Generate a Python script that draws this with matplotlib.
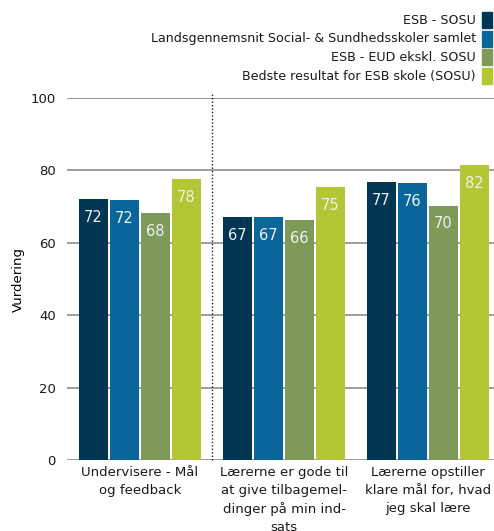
"""Vurdering af undervisere - grupperet søjlediagram."""

import matplotlib
matplotlib.use("Agg")
import matplotlib.pyplot as plt
from matplotlib.patches import Rectangle

plt.rcParams["font.family"] = ["DejaVu Sans"]

CATEGORIES = [
    "Undervisere - Mål\nog feedback",
    "Lærerne er gode til\nat give tilbagemel-\ndinger på min ind-\nsats",
    "Lærerne opstiller\nklare mål for, hvad\njeg skal lære",
]
SERIES = [
    "ESB - SOSU",
    "Landsgennemsnit Social- & Sundhedsskoler samlet",
    "ESB - EUD ekskl. SOSU",
    "Bedste resultat for ESB skole (SOSU)",
]
VALUES = [
    [72.1, 67.1, 76.8],
    [71.8, 67.1, 76.5],
    [68.2, 66.3, 70.2],
    [77.6, 75.4, 81.5],
]
COLORS = ["#003553", "#09669a", "#7e9a58", "#b3c633"]

fig = plt.figure(figsize=(4.94, 5.31), dpi=100)
ax = fig.add_axes([0.1356, 0.1337, 0.8644, 0.6817])

width = 0.2
offsets = [-0.323, -0.1076, 0.1076, 0.323]
for s, (vals, color, off) in enumerate(zip(VALUES, COLORS, offsets)):
    xs = [i + off for i in range(len(CATEGORIES))]
    ax.bar(xs, vals, width=width, color=color, zorder=3)
    for x, v in zip(xs, vals):
        ax.annotate(f"{round(v)}", (x, v), xytext=(0, -13), textcoords="offset points",
                    ha="center", va="center", color="#f0f0f0", fontsize=10.5, zorder=4)

ax.set_xlim(-0.507, 2.458)
ax.set_ylim(0, 100)
ax.set_yticks(range(0, 101, 20))
ax.set_xticks(range(len(CATEGORIES)))
ax.set_xticklabels(CATEGORIES, fontsize=9.2, linespacing=1.5)
ax.tick_params(axis="both", length=0, labelsize=9.5, colors="#1a1a1a")
ax.tick_params(axis="y", pad=8)
ax.tick_params(axis="x", pad=4)
ax.grid(axis="y", color="#8c8c8c", linewidth=1.2, zorder=0)
for sp in ax.spines.values():
    sp.set_visible(False)
ax.axvline(0.5, ymin=0, ymax=1.01, color="#222222", linestyle=(0, (1, 1.5)), linewidth=1, clip_on=False)
ax.set_ylabel("Vurdering", fontsize=9.5, labelpad=4)

# legend drawn by hand: right-aligned text, colour square on the right
fig_w, fig_h = fig.get_size_inches() * fig.dpi
for i, (label, color) in enumerate(zip(SERIES, COLORS)):
    yc = 20 + i * 18.7
    fig.text(476 / fig_w, 1 - yc / fig_h, label, ha="right", va="center", fontsize=9.1, color="#1a1a1a")
    fig.patches.append(Rectangle((482 / fig_w, 1 - (yc + 8) / fig_h), 10 / fig_w, 16 / fig_h,
                                 transform=fig.transFigure, color=color))

fig.savefig("out.png", dpi=100)
